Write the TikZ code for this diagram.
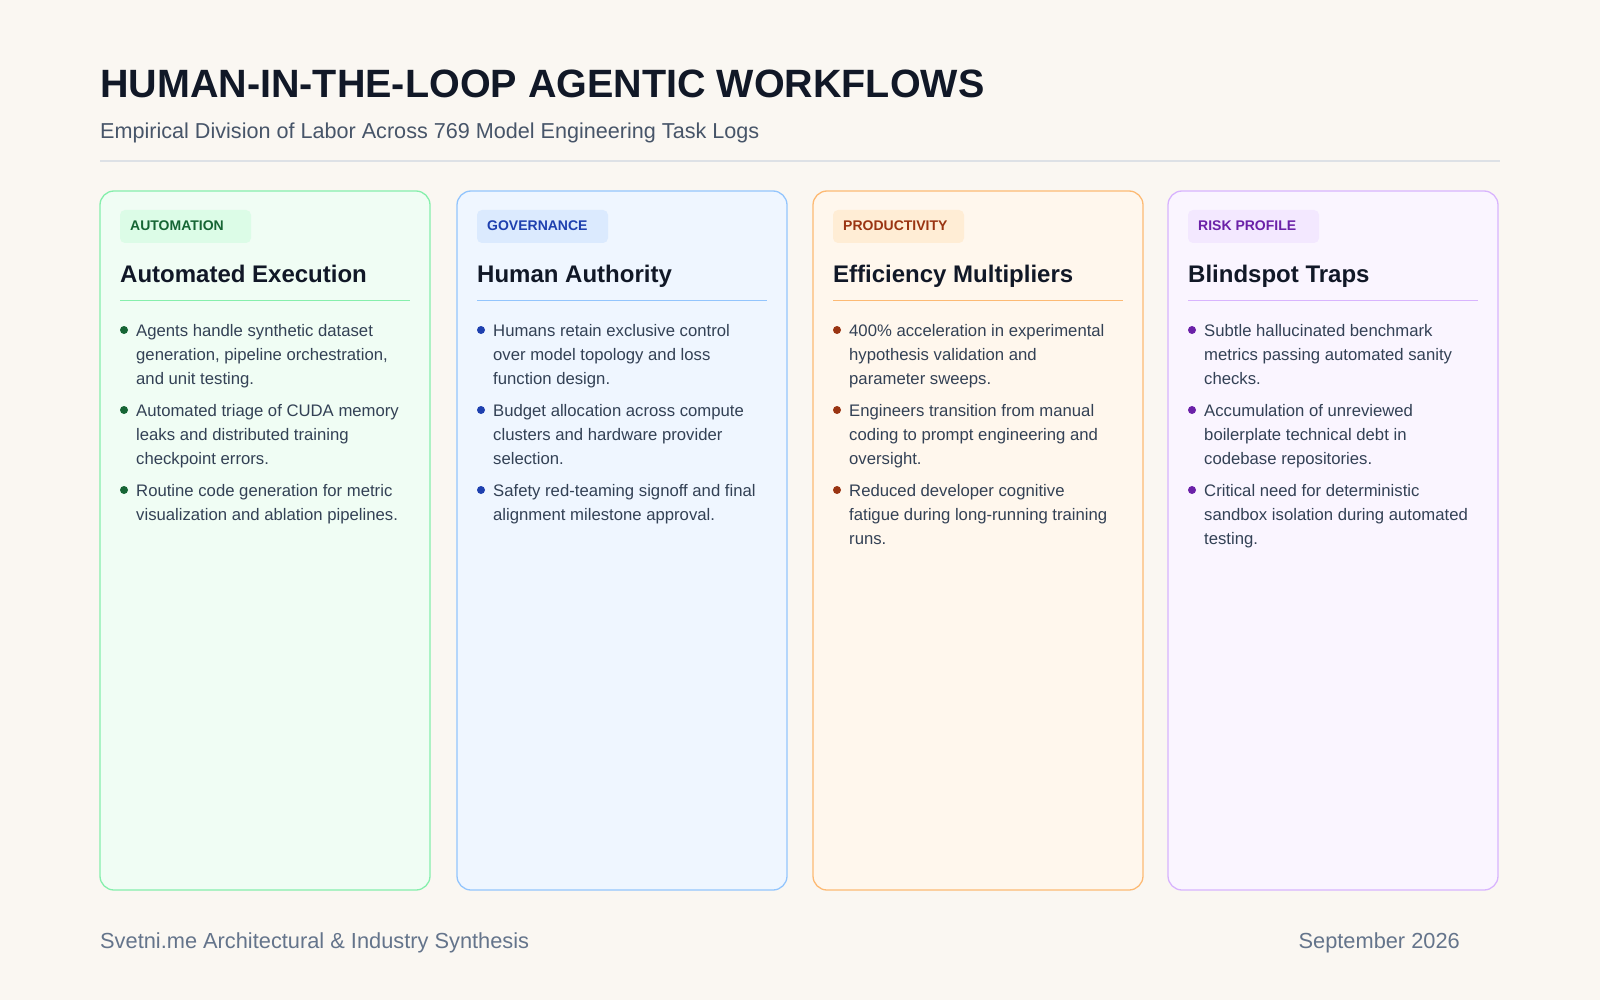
\documentclass[tikz,border=0pt]{standalone}
\usepackage{fontspec}
\setmainfont{Liberation Sans}
\definecolor{bg}{HTML}{FAF7F2}
\definecolor{ttl}{HTML}{111827}
\definecolor{sub}{HTML}{475569}
\definecolor{body}{HTML}{334155}
\definecolor{foot}{HTML}{64748B}
\definecolor{rule}{HTML}{DDE1E6}
\definecolor{gB}{HTML}{86EFAC}\definecolor{gF}{HTML}{F0FDF4}\definecolor{gT}{HTML}{DCFCE7}\definecolor{gD}{HTML}{166534}
\definecolor{bB}{HTML}{93C5FD}\definecolor{bF}{HTML}{EFF6FF}\definecolor{bT}{HTML}{DBEAFE}\definecolor{bD}{HTML}{1E40AF}
\definecolor{oB}{HTML}{FDBA74}\definecolor{oF}{HTML}{FFF7ED}\definecolor{oT}{HTML}{FFEDD5}\definecolor{oD}{HTML}{9A3412}
\definecolor{pB}{HTML}{D8B4FE}\definecolor{pF}{HTML}{FAF5FF}\definecolor{pT}{HTML}{F3E8FF}\definecolor{pD}{HTML}{6B21A8}
\newcommand\card[5]{% x, prefix, badge, heading, name
  \draw[draw=#2B,fill=#2F,line width=1.3pt,rounded corners=14pt] (#1,191) rectangle (#1+330,890);
  \fill[#2T,rounded corners=5pt] (#1+20,210) rectangle (#1+151,243);
  \node[anchor=base west,font=\fontsize{14}{16}\selectfont\bfseries,text=#2D,inner sep=0] (#5b) at (#1+30,231) {#3};
  \node[anchor=base west,font=\fontsize{24}{28}\selectfont\bfseries,text=ttl,inner sep=0] (#5h) at (#1+20,283) {#4};
  \draw[#2B,line width=0.9pt] (#1+20,300) -- (#1+310,300);
}
\newcommand\bul[4]{% x, y, color, lines
  \fill[#3] (#1+24,#2-6) circle (4);
  \foreach \l [count=\i] in {#4}{
    \node[anchor=base west,font=\fontsize{16.7}{20}\selectfont,text=body,inner sep=0] at (#1+36,#2+24*\i-24) {\l};
  }
}
\begin{document}
\begin{tikzpicture}[x=1pt,y=-1pt]
\fill[bg] (0,0) rectangle (1600,1000);
\useasboundingbox (0,0) rectangle (1600,1000);
\node[anchor=base west,font=\fontsize{39.5}{46}\selectfont\bfseries,text=ttl,inner sep=0] (title) at (100,98) {HUMAN-IN-THE-LOOP AGENTIC WORKFLOWS};
\node[anchor=base west,font=\fontsize{21.6}{24}\selectfont,text=sub,inner sep=0] (subt) at (100,139) {Empirical Division of Labor Across 769 Model Engineering Task Logs};
\draw[rule,line width=1.2pt] (100,161) -- (1500,161);
\card{100}{g}{AUTOMATION}{Automated Execution}{c1}
\card{457}{b}{GOVERNANCE}{Human Authority}{c2}
\card{813}{o}{PRODUCTIVITY}{Efficiency Multipliers}{c3}
\card{1168}{p}{RISK PROFILE}{Blindspot Traps}{c4}
\bul{100}{336}{gD}{{Agents handle synthetic dataset},{generation, pipeline orchestration,},{and unit testing.}}
\bul{100}{416}{gD}{{Automated triage of CUDA memory},{leaks and distributed training},{checkpoint errors.}}
\bul{100}{496}{gD}{{Routine code generation for metric},{visualization and ablation pipelines.}}
\bul{457}{336}{bD}{{Humans retain exclusive control},{over model topology and loss},{function design.}}
\bul{457}{416}{bD}{{Budget allocation across compute},{clusters and hardware provider},{selection.}}
\bul{457}{496}{bD}{{Safety red-teaming signoff and final},{alignment milestone approval.}}
\bul{813}{336}{oD}{{400\% acceleration in experimental},{hypothesis validation and},{parameter sweeps.}}
\bul{813}{416}{oD}{{Engineers transition from manual},{coding to prompt engineering and},{oversight.}}
\bul{813}{496}{oD}{{Reduced developer cognitive},{fatigue during long-running training},{runs.}}
\bul{1168}{336}{pD}{{Subtle hallucinated benchmark},{metrics passing automated sanity},{checks.}}
\bul{1168}{416}{pD}{{Accumulation of unreviewed},{boilerplate technical debt in},{codebase repositories.}}
\bul{1168}{496}{pD}{{Critical need for deterministic},{sandbox isolation during automated},{testing.}}
\node[anchor=base west,font=\fontsize{21.8}{24}\selectfont,text=foot,inner sep=0] (f1) at (100,948) {Svetni.me Architectural \& Industry Synthesis};
\node[anchor=base east,font=\fontsize{21.8}{24}\selectfont,text=foot,inner sep=0] (f2) at (1460,948) {September 2026};
\end{tikzpicture}
\end{document}
